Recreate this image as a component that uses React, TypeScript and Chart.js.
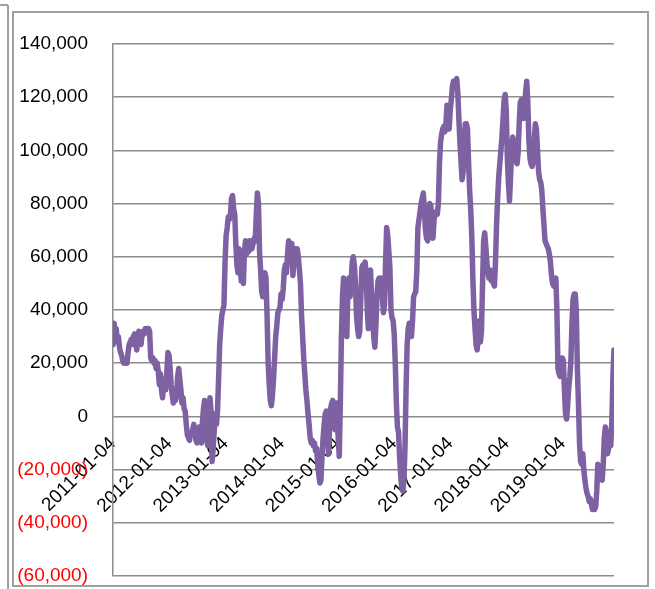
import React, { useEffect, useRef } from 'react';
import { Chart, registerables } from 'chart.js';

Chart.register(...registerables);

// ---------- data ----------
const startDate = '2011-01-04';
const weekStepDays = 7;
const yearTickLabels = [
  '2011-01-04', '2012-01-04', '2013-01-04', '2014-01-04', '2015-01-04',
  '2016-01-04', '2017-01-04', '2018-01-04', '2019-01-04',
];
const valueUnit = 1000;
// weekly values (thousands), one per week from 2011-01-04
const weeklyValuesThousands = [
  27, 35, 31, 33, 28, 30, 26, 24, 23, 21,
  20, 20, 21, 20, 24, 27, 28, 29, 27, 30,
  31, 28, 25, 29, 32, 30, 27, 31, 32, 31,
  33, 32, 33, 33, 32, 22, 21, 22, 20, 21,
  18, 20, 17, 12, 16, 10, 7, 12, 14, 10,
  17, 24, 23, 18, 12, 8, 5, 10, 6, 8,
  15, 18, 14, 10, 5, 7, 3, 2, -3, -7,
  -8, -9, -6, -7, -5, -3, -6, -9, -10, -8,
  -4, -7, -10, -2, 3, 6, -2, -9, -11, -3,
  7, 2, -17, -12, -5, 1, -3, 2, 14, 27,
  33, 38, 40, 42, 58, 68, 71, 75, 74, 76,
  82, 83, 78, 76, 65, 57, 54, 63, 58, 51,
  55, 50, 62, 66, 61, 64, 62, 66, 64, 63,
  65, 67, 66, 76, 84, 80, 62, 55, 47, 45,
  50, 54, 52, 38, 20, 12, 6, 4, 8, 14,
  22, 30, 34, 39, 40, 41, 46, 44, 48, 55,
  57, 54, 61, 66, 64, 60, 65, 53, 59, 63,
  62, 63, 60, 55, 50, 38, 30, 22, 16, 10,
  6, 1, -3, -8, -10, -9, -11, -10, -13, -12,
  -18, -22, -25, -24, -15, -8, -3, 1, 2, -6,
  -14, -4, 3, 5, 6, -2, -5, 2, 5, -8,
  -15, 5, 30, 45, 52, 40, 35, 30, 48, 52,
  45, 50, 58, 60, 57, 50, 38, 33, 30, 32,
  45, 56, 57, 55, 58, 53, 40, 33, 48, 55,
  46, 38, 30, 26, 34, 45, 51, 52, 50, 52,
  45, 39, 42, 58, 71, 68, 62, 56, 40, 37,
  36, 31, 20, 5, -4, -6, -15, -22, -27, -28,
  -24, -12, 10, 27, 33, 35, 34, 30, 36, 45,
  46, 47, 55, 71, 74, 77, 80, 82, 84, 78,
  70, 67, 66, 69, 80, 79, 72, 67, 74, 76,
  77, 76, 80, 95, 103, 106, 108, 109, 107, 110,
  117, 112, 108, 115, 119, 124, 126, 125, 126, 127,
  122, 112, 103, 96, 89, 92, 104, 110, 110, 108,
  96, 85, 78, 68, 52, 40, 33, 27, 25, 30,
  36, 28, 32, 50, 66, 69, 64, 58, 54, 52,
  55, 51, 53, 50, 49, 58, 72, 82, 90, 95,
  100, 105, 112, 119, 121, 115, 97, 88, 81, 90,
  100, 105, 103, 99, 96, 95, 99, 110, 118, 119,
  114, 112, 116, 122, 126, 118, 104, 97, 95, 94,
  96, 104, 110, 108, 100, 92, 89, 88, 85, 78,
  72, 66, 65, 64, 63, 61, 58, 53, 50, 49,
  51, 52, 40, 18, 16, 15, 17, 22, 21, 10,
  1, -1, 4, 11, 15, 21, 35, 44, 46, 46,
  40, 18, 5, -10, -17, -18, -14, -20, -24, -27,
  -29, -30, -32, -31, -33, -35, -34, -35, -34, -28,
  -18, -19, -22, -23, -24, -18, -8, -4, -6, -14,
  -12, -10, -11, -2, 15, 25,
];
const yMin = -60000;
const yMax = 140000;
const yStep = 20000;

// ---------- helpers ----------
const FONT = '"Liberation Sans", Arial, sans-serif';
const GRID = '#8c8c8c';
const LINE = '#7d61a2';

function dayOffset(d: string): number {
  return Math.round((Date.parse(d) - Date.parse(startDate)) / 86400000);
}

function fmt(v: number): string {
  const s = Math.abs(v).toLocaleString('en-US');
  return v < 0 ? `(${s})` : s;
}

const framePlugin = {
  id: 'frame',
  beforeDraw(chart: any) {
    const { ctx, width, height } = chart;
    ctx.save();
    ctx.fillStyle = '#ffffff';
    ctx.fillRect(0, 0, width, height);
    ctx.strokeStyle = '#a0a0a0';
    ctx.lineWidth = 2;
    ctx.strokeRect(13, 12, 635, 574);
    ctx.beginPath();
    ctx.moveTo(8, 5);
    ctx.lineTo(8, height);
    ctx.moveTo(0, 5);
    ctx.lineTo(8, 5);
    ctx.stroke();
    ctx.restore();
  },
};

export default function App() {
  const canvasRef = useRef<HTMLCanvasElement | null>(null);

  useEffect(() => {
    document.body.style.margin = '0';
    const canvas = canvasRef.current;
    if (!canvas) return;
    const points = weeklyValuesThousands.map((v, i) => ({
      x: i * weekStepDays,
      y: v * valueUnit,
    }));
    const lastDay = (weeklyValuesThousands.length - 1) * weekStepDays;

    const chart = new Chart(canvas, {
      type: 'line',
      data: {
        datasets: [
          {
            data: points,
            borderColor: LINE,
            borderWidth: 5.5,
            pointRadius: 0,
            tension: 0,
            borderJoinStyle: 'round',
            borderCapStyle: 'round',
            fill: false,
          },
        ],
      },
      options: {
        animation: false,
        responsive: false,
        layout: { padding: { top: 44, right: 41, bottom: 13, left: 0 } },
        plugins: {
          legend: { display: false },
          tooltip: { enabled: false },
        },
        scales: {
          x: {
            type: 'linear',
            position: { y: 0 } as any,
            min: 0,
            max: lastDay,
            afterBuildTicks: (s: any) => {
              s.ticks = yearTickLabels.map((l) => ({ value: dayOffset(l) }));
            },
            ticks: {
              autoSkip: false,
              minRotation: 45,
              maxRotation: 45,
              padding: 16,
              color: '#000000',
              font: { family: FONT, size: 19 },
              callback: (_v: any, i: number) => yearTickLabels[i],
            },
            grid: { display: false, drawTicks: false },
            border: { display: false },
          },
          y: {
            type: 'linear',
            min: yMin,
            max: yMax,
            afterFit: (s: any) => {
              s.width = 113;
            },
            ticks: {
              stepSize: yStep,
              padding: 0,
              color: (c: any) => (c.tick && c.tick.value < 0 ? '#ff0000' : '#000000'),
              font: { family: FONT, size: 19 },
              callback: (v: any) => fmt(Number(v)),
            },
            grid: {
              color: GRID,
              lineWidth: 1.5,
              drawTicks: true,
              tickLength: 25,
              tickColor: 'rgba(0,0,0,0)',
            },
            border: { display: true, color: GRID, width: 1.5 },
          },
        },
      },
      plugins: [framePlugin],
    });
    return () => chart.destroy();
  }, []);

  return (
    <div style={{ width: 655, height: 589 }}>
      <canvas ref={canvasRef} width={655} height={589} style={{ display: 'block' }} />
    </div>
  );
}
